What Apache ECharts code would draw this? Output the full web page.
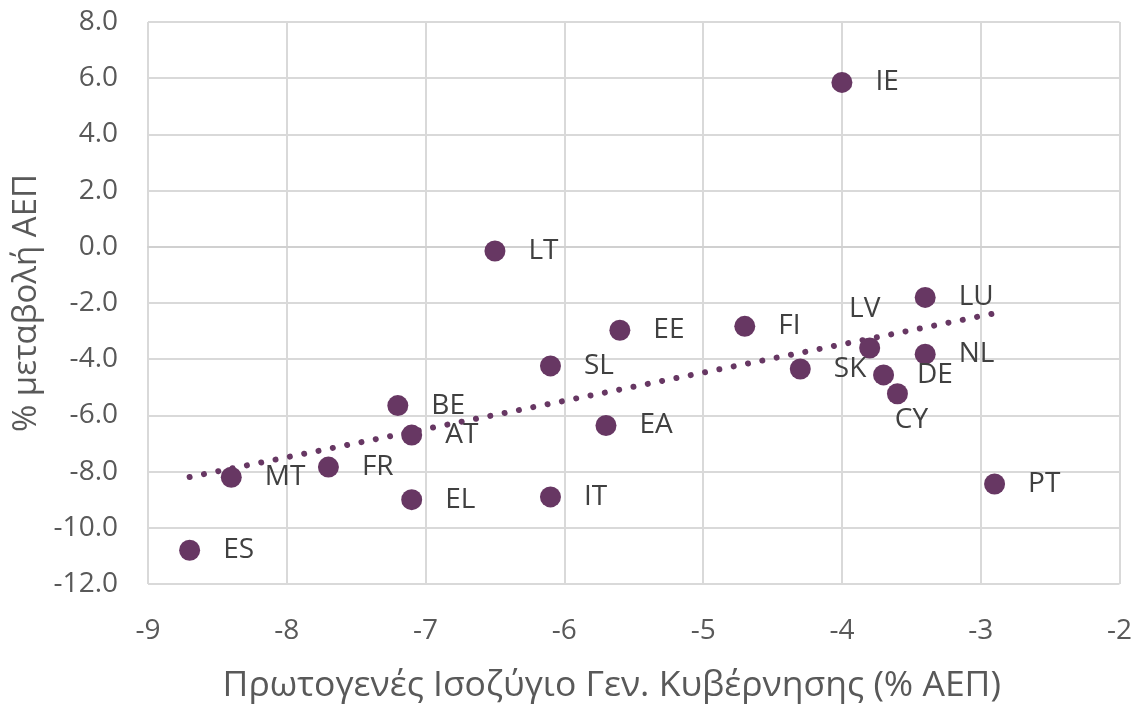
<!DOCTYPE html>
<html>
<head>
<meta charset="utf-8">
<script src="https://cdn.jsdelivr.net/npm/echarts@6/dist/echarts.min.js"></script>
<style>html,body{margin:0;padding:0;background:#fff;overflow:hidden}#c{width:1135px;height:709px}</style>
</head>
<body>
<div id="c"></div>
<script>
const countries = ['IE','LT','LU','FI','EE','LV','NL','SL','SK','DE','CY','BE','EA','AT','FR','MT','PT','IT','EL','ES'];
const primaryBalance = [-4.0,-6.5,-3.4,-4.7,-5.6,-3.8,-3.4,-6.1,-4.3,-3.7,-3.6,-7.2,-5.7,-7.1,-7.7,-8.4,-2.9,-6.1,-7.1,-8.7];
const gdpChange = [5.85,-0.15,-1.8,-2.83,-2.97,-3.6,-3.82,-4.24,-4.35,-4.56,-5.23,-5.65,-6.36,-6.7,-7.84,-8.2,-8.44,-8.9,-9.0,-10.8];
const xTitle = 'Πρωτογενές Ισοζύγιο Γεν. Κυβέρνησης (% ΑΕΠ)';
const yTitle = '% μεταβολή ΑΕΠ';

// label placement styles (not data)
const labelStyle = {
  LV: {position: 'top', distance: 14, offset: [-5, 0]},
  CY: {position: 'bottom', distance: 2, offset: [14, 0]}
};

const FONT = '"Open Sans", sans-serif';
const COLOR = '#673763';

// linear regression trend from data
const n = primaryBalance.length;
const mx = primaryBalance.reduce((a,b)=>a+b,0)/n;
const my = gdpChange.reduce((a,b)=>a+b,0)/n;
let sxy = 0, sxx = 0;
for (let i=0;i<n;i++){ sxy += (primaryBalance[i]-mx)*(gdpChange[i]-my); sxx += (primaryBalance[i]-mx)**2; }
const slope = sxy/sxx, icpt = my - slope*mx;
const xmin = Math.min(...primaryBalance), xmax = Math.max(...primaryBalance);
const trend = [[xmin, slope*xmin+icpt],[xmax, slope*xmax+icpt]];

const pts = countries.map((c,i)=>{
  const d = {name: c, value: [primaryBalance[i], gdpChange[i]]};
  if (labelStyle[c]) d.label = labelStyle[c];
  return d;
});

const chart = echarts.init(document.getElementById('c'), null, {renderer:'canvas', width: 1135, height: 709});
chart.setOption({
  animation: false,
  backgroundColor: '#fff',
  grid: {left: 148, width: 973, top: 22, height: 565, containLabel: false},
  xAxis: {
    type: 'value', min: -9, max: -2, interval: 1,
    name: xTitle, nameLocation: 'middle', nameGap: 84,
    nameTextStyle: {fontFamily: FONT, fontSize: 35.5, color: '#595959', padding: [0, 44, 0, 0]},
    axisLine: {show: true, lineStyle: {color: '#d0d0d0', width: 2}},
    axisTick: {show: false},
    axisLabel: {fontFamily: FONT, fontSize: 28, color: '#595959', margin: 33},
    splitLine: {show: true, lineStyle: {color: '#d9d9d9', width: 2}}
  },
  yAxis: {
    type: 'value', min: -12, max: 8, interval: 2,
    name: yTitle, nameLocation: 'middle', nameGap: 96,
    nameTextStyle: {fontFamily: FONT, fontSize: 33, color: '#595959'},
    axisLine: {show: false},
    axisTick: {show: false},
    axisLabel: {fontFamily: FONT, fontSize: 28, color: '#595959', margin: 30,
      formatter: v => v.toFixed(1)},
    splitLine: {show: true, lineStyle: {color: '#d9d9d9', width: 2}}
  },
  series: [
    {
      type: 'line', data: trend, symbol: 'none', silent: true, z: 1,
      lineStyle: {color: COLOR, width: 6, type: [0.01, 14.6], cap: 'round'}
    },
    {
      type: 'scatter', data: pts, symbolSize: 21, z: 2,
      itemStyle: {color: COLOR, opacity: 1},
      label: {show: true, position: 'right', distance: 23,
        formatter: p => p.name,
        fontFamily: FONT, fontSize: 28, color: '#404040'}
    }
  ]
});
</script>
</body>
</html>
